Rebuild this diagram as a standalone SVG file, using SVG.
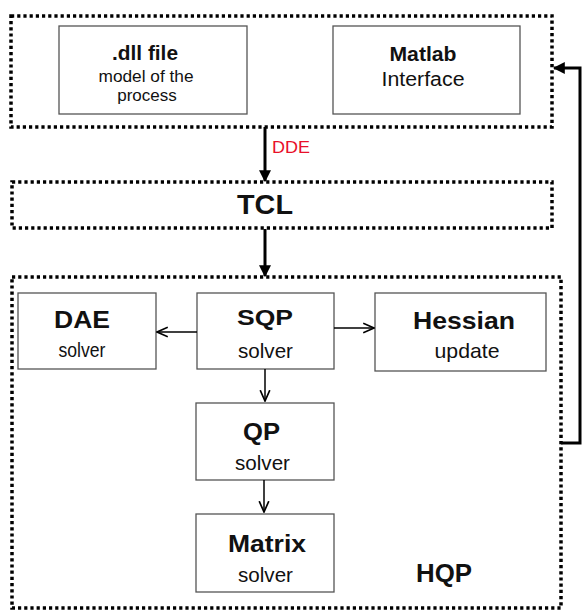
<svg xmlns="http://www.w3.org/2000/svg" width="582" height="611" viewBox="0 0 582 611">
<defs>
<style>
.dot{fill:none;stroke:#000;stroke-width:3.5;stroke-dasharray:3.2 3}
.box{fill:#fff;stroke:#555;stroke-width:1.3}
.t{font-family:"Liberation Sans",Arial,sans-serif;fill:#111;text-anchor:middle}
.b{font-weight:bold}
.thick{stroke:#000;stroke-width:3;fill:none}
.thin{stroke:#000;stroke-width:1.5;fill:none}
</style>
<marker id="ah" viewBox="0 0 10 10" refX="9" refY="5" markerWidth="4" markerHeight="4" orient="auto" markerUnits="strokeWidth"><path d="M0,0 L10,5 L0,10 z" fill="#000"/></marker>
<marker id="as" viewBox="0 0 10 10" refX="9" refY="5" markerWidth="8" markerHeight="8" orient="auto" markerUnits="strokeWidth"><path d="M0,1 L9,5 L0,9" fill="none" stroke="#000" stroke-width="1.4"/></marker>
</defs>
<g id="top-group"><rect class="dot" x="11" y="16" width="541" height="111"/></g>
<g id="dll"><rect class="box" x="59" y="26" width="188" height="88"/>
<text class="t b" x="145" y="60" font-size="21" textLength="66" lengthAdjust="spacingAndGlyphs">.dll file</text>
<text class="t" x="146" y="82" font-size="17" textLength="95" lengthAdjust="spacingAndGlyphs">model of the</text>
<text class="t" x="147" y="101" font-size="17">process</text></g>
<g id="matlab"><rect class="box" x="333" y="26" width="187" height="88"/>
<text class="t b" x="423" y="61" font-size="20" textLength="67" lengthAdjust="spacingAndGlyphs">Matlab</text>
<text class="t" x="423" y="86" font-size="20" textLength="83" lengthAdjust="spacingAndGlyphs">Interface</text></g>
<g id="tcl"><rect class="dot" x="12" y="182" width="540" height="46"/>
<text class="t b" x="265" y="214" font-size="28" textLength="56" lengthAdjust="spacingAndGlyphs">TCL</text></g>
<g id="hqp"><rect class="dot" x="12" y="277" width="549" height="331"/>
<text class="t b" x="444" y="582" font-size="25" textLength="56" lengthAdjust="spacingAndGlyphs">HQP</text></g>
<g id="dae"><rect class="box" x="18" y="293" width="138" height="76"/>
<text class="t b" x="82" y="328" font-size="23" textLength="56" lengthAdjust="spacingAndGlyphs">DAE</text>
<text class="t" x="82" y="357" font-size="21" textLength="47" lengthAdjust="spacingAndGlyphs">solver</text></g>
<g id="sqp"><rect class="box" x="197" y="293" width="137" height="76"/>
<text class="t b" x="265" y="325" font-size="22" textLength="56" lengthAdjust="spacingAndGlyphs">SQP</text>
<text class="t" x="265.5" y="358" font-size="21" textLength="55" lengthAdjust="spacingAndGlyphs">solver</text></g>
<g id="hessian"><rect class="box" x="375" y="293" width="171" height="78"/>
<text class="t b" x="464" y="329" font-size="24" textLength="102" lengthAdjust="spacingAndGlyphs">Hessian</text>
<text class="t" x="467" y="358" font-size="21" textLength="65" lengthAdjust="spacingAndGlyphs">update</text></g>
<g id="qp"><rect class="box" x="196" y="403" width="138" height="77"/>
<text class="t b" x="261.5" y="440" font-size="23" textLength="37" lengthAdjust="spacingAndGlyphs">QP</text>
<text class="t" x="262.5" y="470" font-size="21" textLength="55" lengthAdjust="spacingAndGlyphs">solver</text></g>
<g id="matrix"><rect class="box" x="196" y="514" width="138" height="78"/>
<text class="t b" x="267" y="552" font-size="24" textLength="78" lengthAdjust="spacingAndGlyphs">Matrix</text>
<text class="t" x="265.5" y="582" font-size="21" textLength="55" lengthAdjust="spacingAndGlyphs">solver</text></g>
<g id="connectors">
<line class="thick" x1="265" y1="127" x2="265" y2="181" marker-end="url(#ah)"/>
<text x="272" y="153" font-family="Liberation Sans,Arial,sans-serif" font-size="16" fill="#e8102a" textLength="38" lengthAdjust="spacingAndGlyphs">DDE</text>
<line class="thick" x1="265" y1="229" x2="265" y2="276" marker-end="url(#ah)"/>
<line class="thin" x1="197" y1="332" x2="157" y2="332" marker-end="url(#as)"/>
<line class="thin" x1="334" y1="328" x2="374" y2="328" marker-end="url(#as)"/>
<line class="thin" x1="265" y1="369" x2="265" y2="401" marker-end="url(#as)"/>
<line class="thin" x1="264" y1="480" x2="264" y2="512" marker-end="url(#as)"/>
<polyline class="thick" points="561,443 580,443 580,68 554,68" marker-end="url(#ah)"/>
</g>
</svg>
